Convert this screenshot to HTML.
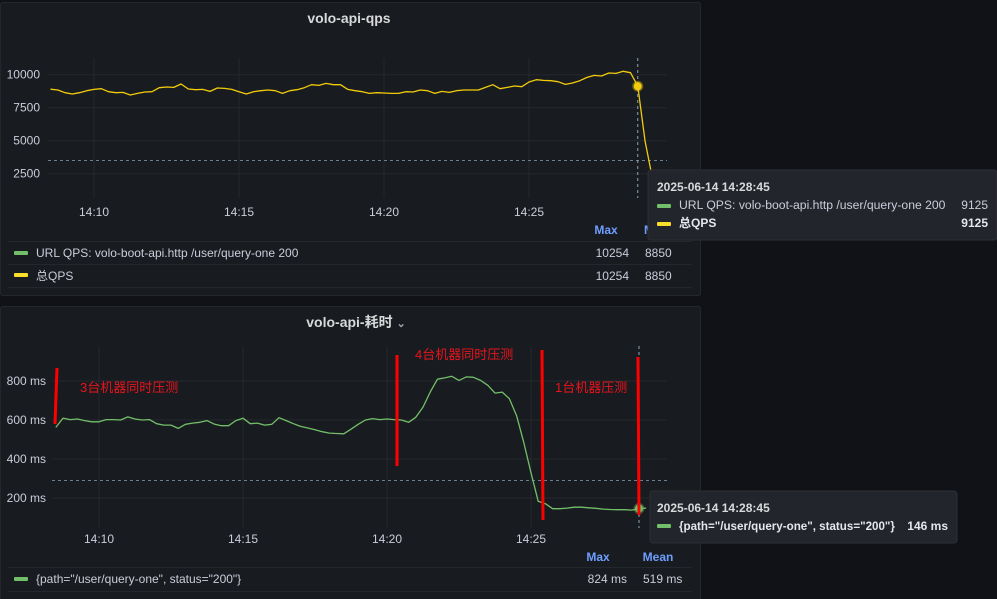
<!DOCTYPE html>
<html><head><meta charset="utf-8">
<style>
html,body{margin:0;padding:0;background:#111217;width:997px;height:599px;overflow:hidden;font-family:"Liberation Sans","Noto Sans CJK SC",sans-serif;}
svg{position:absolute;left:0;top:0;}
</style></head>
<body>
<svg id="c" width="997" height="599" font-family="Liberation Sans, Noto Sans CJK SC, sans-serif">
<rect x="0" y="0" width="997" height="599" fill="#111217"/>
<rect x="0.5" y="2.5" width="700" height="293" rx="2" fill="#181b1f" stroke="#24272c"/>
<rect x="0.5" y="306.5" width="700" height="296" rx="2" fill="#181b1f" stroke="#24272c"/>
<text x="349" y="23" fill="#d8d9da" font-size="14" font-weight="bold" text-anchor="middle">volo-api-qps</text>
<text x="356" y="327" fill="#d8d9da" font-size="14" font-weight="bold" text-anchor="middle">volo-api-耗时 <tspan fill="#9fa1a5" font-size="11">⌄</tspan></text>
<g id="top"></g>
<g id="bot"></g>
<text x="606" y="234" fill="#6e9fff" font-size="12" font-weight="bold" text-anchor="middle">Max</text>
<text x="644" y="234" fill="#6e9fff" font-size="12" font-weight="bold">Mean</text>
<line x1="8" y1="241.5" x2="692" y2="241.5" stroke="#24272c"/>
<line x1="8" y1="264.5" x2="692" y2="264.5" stroke="#24272c"/>
<line x1="8" y1="287.5" x2="692" y2="287.5" stroke="#24272c"/>
<g>
<rect x="14" y="251" width="14" height="4" rx="1" fill="#73bf69"/>
<text x="36" y="257" fill="#ccccdc" font-size="12">URL QPS: volo-boot-api.http /user/query-one 200</text>
<text x="629" y="257" fill="#ccccdc" font-size="12" text-anchor="end">10254</text>
<text x="645" y="257" fill="#ccccdc" font-size="12">8850</text></g>
<g>
<rect x="14" y="273" width="14" height="4" rx="1" fill="#fade2a"/>
<text x="36" y="280" fill="#ccccdc" font-size="12">总QPS</text>
<text x="629" y="280" fill="#ccccdc" font-size="12" text-anchor="end">10254</text>
<text x="645" y="280" fill="#ccccdc" font-size="12">8850</text></g>

<text x="598" y="561" fill="#6e9fff" font-size="12" font-weight="bold" text-anchor="middle">Max</text>
<text x="658" y="561" fill="#6e9fff" font-size="12" font-weight="bold" text-anchor="middle">Mean</text>
<line x1="8" y1="567.5" x2="692" y2="567.5" stroke="#24272c"/>
<line x1="8" y1="591.5" x2="692" y2="591.5" stroke="#24272c"/>
<g>
<rect x="14" y="577" width="14" height="4" rx="1" fill="#73bf69"/>
<text x="36" y="583" fill="#ccccdc" font-size="12">{path="/user/query-one", status="200"}</text>
<text x="627" y="583" fill="#ccccdc" font-size="12" text-anchor="end">824 ms</text>
<text x="643" y="583" fill="#ccccdc" font-size="12">519 ms</text></g>

<g>
<line x1="57" y1="368" x2="55" y2="424" stroke="#f00" stroke-width="3"/>
<line x1="397" y1="355" x2="397" y2="466" stroke="#f00" stroke-width="3"/>
<line x1="542" y1="350" x2="543" y2="520" stroke="#f00" stroke-width="3"/>
<line x1="638" y1="357" x2="639" y2="515" stroke="#f00" stroke-width="3"/>
<text x="80" y="392" fill="#e8141d" font-size="13">3台机器同时压测</text>
<text x="415" y="359" fill="#e8141d" font-size="13">4台机器同时压测</text>
<text x="555" y="392" fill="#e8141d" font-size="13">1台机器压测</text>
</g>

<g>
<rect x="648" y="170" width="349" height="70" rx="3" fill="#22252b" stroke="#2d3036"/>
<text x="657" y="191" fill="#d8d9da" font-size="12" font-weight="bold">2025-06-14 14:28:45</text>
<rect x="657" y="204" width="14" height="4" rx="1" fill="#73bf69"/>
<text x="679" y="209" fill="#ccccdc" font-size="12.2">URL QPS: volo-boot-api.http /user/query-one 200</text>
<text x="988" y="209" fill="#ccccdc" font-size="12" text-anchor="end">9125</text>
<rect x="657" y="222" width="14" height="4" rx="1" fill="#fade2a"/>
<text x="679" y="227" fill="#e6e6ee" font-size="12" font-weight="bold">总QPS</text>
<text x="988" y="227" fill="#e6e6ee" font-size="12" font-weight="bold" text-anchor="end">9125</text>
</g>
<g>
<rect x="650" y="491" width="307" height="52" rx="3" fill="#22252b" stroke="#2d3036"/>
<text x="657" y="512" fill="#d8d9da" font-size="12" font-weight="bold">2025-06-14 14:28:45</text>
<rect x="657" y="524" width="14" height="4" rx="1" fill="#73bf69"/>
<text x="679" y="530" fill="#e6e6ee" font-size="11.6" font-weight="bold">{path="/user/query-one", status="200"}</text>
<text x="948" y="530" fill="#e6e6ee" font-size="12" font-weight="bold" text-anchor="end">146 ms</text>
</g>
</svg>
<script>
const qpsTicks = [2500, 5000, 7500, 10000];
const timeTicks = ["14:10", "14:15", "14:20", "14:25"];
const startMin = 8.5;
const stepMin = 0.25;
const qpsValues = [8900,8838,8636,8535,8636,8788,8889,8940,8712,8636,8662,8460,8586,8687,8712,9015,9066,9040,9293,8914,8864,8889,8737,8990,8965,8889,8712,8535,8712,8788,8838,8788,8586,8788,8864,9015,9243,9192,9344,9243,9243,8889,8788,8712,8586,8636,8611,8586,8586,8712,8687,8838,8788,8586,8737,8662,8788,8838,8838,8838,9040,9243,8940,9040,9142,9091,9444,9621,9571,9545,9470,9268,9369,9545,9798,9949,9899,10126,10101,10254,10152,9125,5000,2200];
const qpsThreshold = 3500;
const latTicks = [200, 400, 600, 800];
const latValues = [562,609,602,605,597,591,591,602,602,600,616,605,600,602,581,574,574,557,578,584,588,597,579,571,571,597,609,581,584,574,578,612,597,581,567,559,550,540,533,531,529,553,578,600,607,602,605,602,600,588,614,666,743,809,816,824,803,821,819,803,778,738,743,709,622,484,329,183,171,145,145,148,153,153,150,147,143,141,140,140,138,146,148];
const latThreshold = 290;
const hoverIndex = 81;

const NS = "http://www.w3.org/2000/svg";
function mk(parent, tag, attrs){const e=document.createElementNS(NS,tag);for(const k in attrs)e.setAttribute(k,attrs[k]);parent.appendChild(e);return e;}
function tickMin(t){const p=t.split(":");return (+p[1]);}

function drawPanel(g, cfg){
  const X = m => cfg.x0 + (m - 10) * cfg.pxPerMin;
  const Y = v => cfg.yZero - v * cfg.pxPerUnit;
  cfg.yTicks.forEach(v=>{
    const l=mk(g,"line",{x1:cfg.left,x2:cfg.right,y1:Y(v),y2:Y(v),stroke:"#25282d"});
    
    
    const t=mk(g,"text",{x:cfg.labelX,y:Y(v)+4,fill:"#ccccdc","font-size":12,"text-anchor":"end"});
    t.textContent=v+cfg.unit;
    
    
  });
  timeTicks.forEach(s=>{
    const x=X(tickMin(s));
    const l=mk(g,"line",{x1:x,x2:x,y1:cfg.top,y2:cfg.bottom,stroke:"#25282d"});
    
    
    const t=mk(g,"text",{x:x,y:cfg.xLabelY,fill:"#ccccdc","font-size":12,"text-anchor":"middle"});
    t.textContent=s;
    
    
  });
  const th=mk(g,"line",{x1:cfg.left,x2:cfg.right,y1:Y(cfg.threshold),y2:Y(cfg.threshold),stroke:"#6c7f8e","stroke-dasharray":"3,3"});
  
  
  const hx=X(startMin+hoverIndex*stepMin);
  const hl=mk(g,"line",{x1:hx,x2:hx,y1:cfg.top,y2:cfg.bottom,stroke:"#8ea3b3","stroke-dasharray":"3,3"});
  
  
  const pts=cfg.values.map((v,i)=>X(startMin+i*stepMin).toFixed(1)+","+Y(v).toFixed(1)).join(" ");
  const pl=mk(g,"polyline",{points:pts,fill:"none",stroke:cfg.color,"stroke-width":1.3,"stroke-linejoin":"round"});
  
  
  const hv=cfg.values[hoverIndex];
  const c=mk(g,"circle",{cx:hx,cy:Y(hv),r:4,fill:cfg.color,stroke:cfg.color,"stroke-opacity":0.4,"stroke-width":3});
  
  
}
drawPanel(document.getElementById("top"),{
  x0:94,pxPerMin:29,yZero:206.7,pxPerUnit:33/2500,left:48,right:667,top:58,bottom:198,
  labelX:40,xLabelY:216,unit:"",yTicks:qpsTicks,values:qpsValues,threshold:qpsThreshold,
  color:"#f2cc0c",seriesName:"total-qps-line"});
drawPanel(document.getElementById("bot"),{
  x0:99,pxPerMin:28.8,yZero:537,pxPerUnit:39/200,left:52,right:667,top:346,bottom:528,
  labelX:46,xLabelY:543,unit:" ms",yTicks:latTicks,values:latValues,threshold:latThreshold,
  color:"#73bf69",seriesName:"latency-line"});
</script>
</body></html>
